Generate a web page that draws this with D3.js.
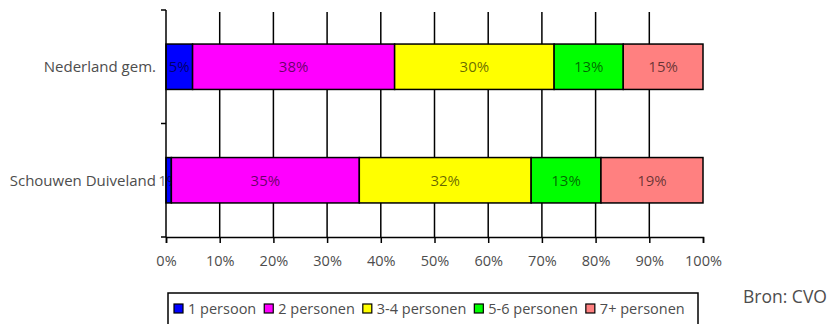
<!DOCTYPE html>
<html>
<head>
<meta charset="utf-8">
<script src="https://cdn.jsdelivr.net/npm/d3@7"></script>
<style>
  body { margin: 0; background: #fff; }
  svg { display: block; font-family: "Open Sans", sans-serif; }
</style>
</head>
<body>
<div id="chart"></div>
<script>
// data
let categories = ["Nederland gem.", "Schouwen Duiveland"];
let groups = ["1 persoon", "2 personen", "3-4 personen", "5-6 personen", "7+ personen"];
let nederland = [5, 38, 30, 13, 15];
let schouwen = [1, 35, 32, 13, 19];
let tickValues = [0, 0.1, 0.2, 0.3, 0.4, 0.5, 0.6, 0.7, 0.8, 0.9, 1];
let colors = ["#0000ff", "#ff00ff", "#ffff00", "#00ff00", "#ff8080"];

let w = 834
let h = 324
let textGrey = "#4d4d4d"

let viz = d3.select("#chart")
  .append("svg")
    .attr("width", w)
    .attr("height", h)
;

// table for d3.stack
let rows = categories.map(function(c, i){
  let vals = i == 0 ? nederland : schouwen;
  let r = {cat: c};
  groups.forEach(function(g, j){ r[g] = vals[j]; });
  return r;
});

let stack = d3.stack().keys(groups).offset(d3.stackOffsetExpand);
let series = stack(rows);

let x = d3.scaleLinear().domain([0, 1]).range([166, 703]);
let y = d3.scaleBand().domain(categories).range([10, 237]).padding(0);
let color = d3.scaleOrdinal().domain(groups).range(colors);
let barH = y.bandwidth() * 0.4;

//gridlines
viz.append("g")
  .selectAll("line")
  .data(tickValues.filter(function(t){ return t > 0 && t < 1; }))
  .enter()
  .append("line")
    .attr("x1", function(d){ return x(d); })
    .attr("x2", function(d){ return x(d); })
    .attr("y1", 12)
    .attr("y2", 237)
    .attr("stroke", "#000")
    .attr("stroke-width", 1.5)
;

//bars
let layers = viz.append("g")
  .selectAll("g")
  .data(series)
  .enter()
  .append("g")
    .attr("fill", function(d){ return color(d.key); })
;
layers.selectAll("rect")
  .data(function(d){ return d; })
  .enter()
  .append("rect")
    .attr("x", function(d){ return x(d[0]); })
    .attr("width", function(d){ return x(d[1]) - x(d[0]); })
    .attr("y", function(d){ return y(d.data.cat) + y.bandwidth() / 2 - barH / 2; })
    .attr("height", barH)
    .attr("stroke", "#000")
    .attr("stroke-width", 1.5)
;

//y axis
let yAxis = viz.append("g");
yAxis.append("line")
  .attr("x1", x(0)).attr("x2", x(0))
  .attr("y1", y.range()[0]).attr("y2", y.range()[1])
  .attr("stroke", "#000").attr("stroke-width", 1.5);
let yBounds = [y.range()[0], y(categories[1]), y.range()[1]];
yAxis.selectAll("line.tk")
  .data(yBounds)
  .enter()
  .append("line")
    .classed("tk", true)
    .attr("x1", x(0) - 5).attr("x2", x(0))
    .attr("y1", function(d){ return d; })
    .attr("y2", function(d){ return d; })
    .attr("stroke", "#000").attr("stroke-width", 1.5)
;
yAxis.selectAll("text")
  .data(categories)
  .enter()
  .append("text")
    .text(function(d){ return d; })
    .attr("x", 156)
    .attr("y", function(d){ return y(d) + y.bandwidth() / 2; })
    .attr("dy", "0.35em")
    .attr("text-anchor", "end")
    .attr("fill", textGrey)
    .attr("font-size", 15)
;

//x axis
let xAxis = d3.axisBottom(x)
  .tickValues(tickValues)
  .tickFormat(d3.format(".0%"))
  .tickSize(6)
  .tickPadding(13);
let gx = viz.append("g")
  .attr("transform", "translate(0," + 237 + ")")
  .call(xAxis);
gx.select(".domain").attr("stroke", "#000").attr("stroke-width", 1.5);
gx.selectAll(".tick line").attr("stroke", "#000").attr("stroke-width", 1.5);
gx.selectAll(".tick text")
  .attr("fill", textGrey)
  .attr("font-size", 14.5)
  .attr("font-family", "Open Sans, sans-serif");

//bar labels
layers.selectAll("text")
  .data(function(d){ return d.map(function(p, i){ return {p: p, val: rows[i][d.key]}; }); })
  .enter()
  .append("text")
    .text(function(d){ return d.val + "%"; })
    .attr("x", function(d){ return (x(d.p[0]) + x(d.p[1])) / 2; })
    .attr("y", function(d){ return y(d.p.data.cat) + y.bandwidth() / 2; })
    .attr("dy", "0.35em")
    .attr("text-anchor", "middle")
    .attr("fill", "#000")
    .attr("fill-opacity", 0.6)
    .attr("font-size", 15)
;

//legend
let legend = viz.append("g");
legend.append("rect")
  .attr("x", 168).attr("y", 293)
  .attr("width", 530).attr("height", 40)
  .attr("fill", "none")
  .attr("stroke", "#000")
  .attr("stroke-width", 1.5);
let lx = 174;
groups.forEach(function(g){
  legend.append("rect")
    .attr("x", lx).attr("y", 304)
    .attr("width", 9).attr("height", 9)
    .attr("fill", color(g))
    .attr("stroke", "#000")
    .attr("stroke-width", 1.2);
  let t = legend.append("text")
    .text(g)
    .attr("x", lx + 14)
    .attr("y", 314)
    .attr("fill", textGrey)
    .attr("font-size", 14.5);
  lx = lx + 14 + t.node().getComputedTextLength() + 8;
});

viz.append("text")
  .text("Bron: CVO")
  .attr("x", 743)
  .attr("y", 303)
  .attr("fill", textGrey)
  .attr("font-size", 17.5)
;
</script>
</body>
</html>
